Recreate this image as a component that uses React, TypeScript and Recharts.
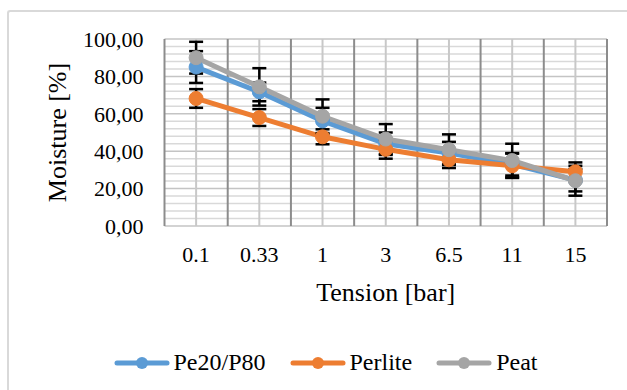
import React from "react";
import {
  LineChart, Line, XAxis, YAxis, Legend, ErrorBar, ReferenceLine,
} from "recharts";

const tensions = ["0.1", "0.33", "1", "3", "6.5", "11", "15"];
const pe20p80 = [85, 71.7, 56.2, 44, 39, 33, 24.5];
const perlite = [68.2, 58, 47.7, 41, 35.4, 32.2, 29];
const peat = [90, 74.4, 58.7, 46.5, 40.8, 35, 24.2];
const pe20p80Err = [8.5, 5, 7, 6, 6, 6, 6];
const perliteErr = [5, 4.5, 4, 5, 4.4, 6.5, 5];
const peatErr = [8.5, 10, 9, 8, 8.2, 9, 8];
const yTicks = [0, 20, 40, 60, 80, 100];
const minorY = [4, 8, 12, 16, 24, 28, 32, 36, 44, 48, 52, 56, 64, 68, 72, 76, 84, 88, 92, 96];

const series = [
  { key: "pe", err: "peErr", name: "Pe20/P80", color: "#5b9bd5" },
  { key: "perlite", err: "perliteErr", name: "Perlite", color: "#ed7d31" },
  { key: "peat", err: "peatErr", name: "Peat", color: "#a5a5a5" },
];

const data = tensions.map((t, i) => ({
  tension: t,
  pe: pe20p80[i],
  perlite: perlite[i],
  peat: peat[i],
  peErr: pe20p80Err[i],
  perliteErr: perliteErr[i],
  peatErr: peatErr[i],
}));

const FONT = "Liberation Serif";

// Excel-style legend: line swatch with a marker in the middle
const renderLegend = () => (
  <div style={{ display: "flex", justifyContent: "center", alignItems: "center", gap: 24, fontFamily: FONT, fontSize: 24, color: "#000" }}>
    {series.map((s) => (
      <div key={s.key} style={{ display: "flex", alignItems: "center" }}>
        <svg width={56} height={16} style={{ marginRight: 4 }}>
          <line x1={3} y1={8} x2={53} y2={8} stroke={s.color} strokeWidth={5} strokeLinecap="round" />
          <circle cx={28} cy={8} r={6} fill={s.color} />
        </svg>
        <span>{s.name}</span>
      </div>
    ))}
  </div>
);

export default function App() {
  return (
    <div style={{ position: "absolute", left: 0, top: 0, width: 627, height: 390, background: "#fff", overflow: "hidden", fontFamily: FONT }}>
      <div style={{ position: "absolute", left: 7, top: 10, width: 700, height: 500, borderLeft: "2px solid #d9d9d9", borderTop: "2px solid #d9d9d9", borderRadius: 3 }} />
      <LineChart width={627} height={390} data={data} margin={{ top: 39, right: 20, bottom: 32, left: 0 }}
                 style={{ position: "absolute", left: 0, top: 0, fontFamily: FONT }}>
        <XAxis dataKey="tension" scale="band" axisLine={false} tickLine={false} tickSize={0} tickMargin={20} height={132}
               tick={{ fontFamily: FONT, fontSize: 22, fill: "#000" }}
               label={{ value: "Tension [bar]", position: "center", fontFamily: FONT, fontSize: 26, fill: "#000" }} />
        <YAxis domain={[0, 100]} ticks={yTicks} axisLine={false} tickLine={false} tickSize={0} tickMargin={21} width={164.5}
               tickFormatter={(v: number) => v.toFixed(2).replace(".", ",")}
               tick={{ fontFamily: FONT, fontSize: 22, fill: "#000" }}
               label={{ value: "Moisture [%]", angle: -90, position: "center", dx: -25, fontFamily: FONT, fontSize: 26, fill: "#000" }} />
        {minorY.map((v) => (
          <ReferenceLine key={"m" + v} y={v} stroke="#d9d9d9" strokeWidth={1.5} />
        ))}
        {yTicks.map((v) => (
          <ReferenceLine key={"M" + v} y={v} stroke="#c4c4c4" strokeWidth={1.5} />
        ))}
        {tensions.map((t) => (
          <ReferenceLine key={"c" + t} x={t} stroke="#c8c8c8" strokeWidth={2} />
        ))}
        {tensions.map((t) => (
          <ReferenceLine key={"b" + t} x={t} position="start" stroke="#8c8c8c" strokeWidth={2} />
        ))}
        <ReferenceLine x={tensions[tensions.length - 1]} position="end" stroke="#8c8c8c" strokeWidth={2} />
        <Legend layout="horizontal" verticalAlign="middle" content={renderLegend}
                wrapperStyle={{ position: "absolute", top: 349, left: 12, width: 627 }} />
        {series.map((s) => (
          <Line key={s.key} dataKey={s.key} name={s.name} stroke={s.color} strokeWidth={5}
                dot={{ r: 7, fill: s.color, stroke: s.color, strokeWidth: 1 }} activeDot={false}
                isAnimationActive={false}>
            <ErrorBar dataKey={s.err} direction="y" width={7} stroke="#000" strokeWidth={2.5} isAnimationActive={false} />
          </Line>
        ))}
      </LineChart>
    </div>
  );
}
